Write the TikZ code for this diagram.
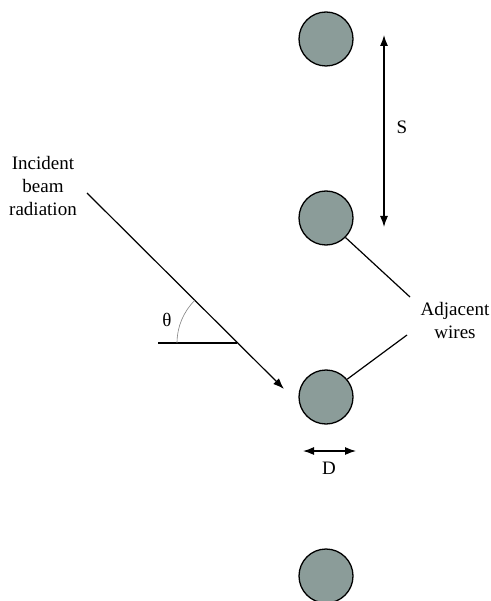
\documentclass[tikz,border=0pt]{standalone}
\usepackage{fontspec}
\setmainfont{Liberation Serif}
\usetikzlibrary{arrows.meta}
\definecolor{wirefill}{RGB}{139,156,153}
\begin{document}
\begin{tikzpicture}[x=1pt,y=-1pt,
  wire/.style={circle,draw=black,line width=1.3pt,fill=wirefill,minimum size=54pt,inner sep=0pt},
  lbl/.style={font=\fontsize{19}{23}\selectfont,inner sep=0pt,align=center},
  tip/.style={-{Latex[length=11pt,width=8pt]}},
  ln/.style={line width=1.2pt}]
\useasboundingbox (0,0) rectangle (490,601);
\node[wire] (w1) at (326,39) {};
\node[wire] (w2) at (326,218) {};
\node[wire] (w3) at (326,397) {};
\node[wire] (w4) at (326,576) {};
% S arrow
\coordinate (sTop) at (384,35);
\coordinate (sBot) at (384,227);
\draw[ln,{Latex[length=11pt,width=8pt]}-{Latex[length=11pt,width=8pt]}] (sTop) -- (sBot);
\node[lbl] (S) at (402,127) {S};
% Adjacent wires
\node[lbl] (adj) at (455,320) {Adjacent\\wires};
\coordinate (a1) at (410,297);
\coordinate (a2) at (407,335);
\draw[ln] (w2.-45) -- (a1);
\draw[ln] (a2) -- (w3.40);
% D arrow
\coordinate (dL) at (303,451);
\coordinate (dR) at (356,451);
\draw[ln,{Latex[length=11pt,width=8pt]}-{Latex[length=11pt,width=8pt]}] (dL) -- (dR);
\node[lbl] (D) at (329,468) {D};
% incident beam
\node[lbl] (inc) at (43,186) {Incident\\beam\\radiation};
\coordinate (b0) at (87,193);
\coordinate (b1) at (284,389);
\draw[ln,tip] (b0) -- (b1);
\coordinate (h0) at (158,343);
\coordinate (hx) at (237,343);
\draw[ln] (h0) -- (hx);
\draw[gray,line width=0.6pt] (177,343) arc[start angle=180,end angle=225,radius=60];
\node[lbl] (th) at (167,320) {θ};
\end{tikzpicture}
\end{document}
